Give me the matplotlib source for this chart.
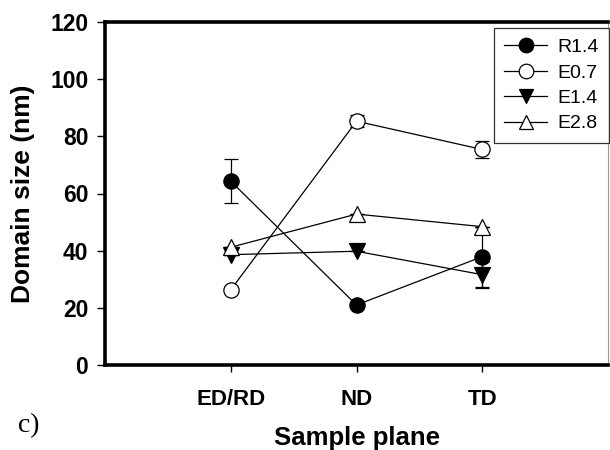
import numpy as np
import matplotlib.pyplot as plt
from matplotlib.lines import Line2D

# Sample planes and domain sizes (nm)
planes = ['ED/RD', 'ND', 'TD']
r14 = [64.3, 21.0, 37.9]
r14_err = [7.7, 0.0, 10.5]
e07 = [26.3, 85.3, 75.4]
e07_err = [0.0, 2.0, 3.0]
e14 = [38.6, 39.8, 31.6]
e14_err = [0.0, 0.0, 4.5]
e28 = [41.2, 52.8, 48.4]
e28_err = [0.0, 0.0, 0.0]

plt.rcParams['font.family'] = ['Liberation Sans', 'DejaVu Sans']

fig = plt.figure(figsize=(6.1, 4.5), dpi=100)
ax = fig.add_axes([105 / 610, 1 - 365 / 450, 503 / 610, 343 / 450])

x = np.arange(1, len(planes) + 1)
series = [
    ('R1.4', r14, r14_err, 'o', 'black'),
    ('E0.7', e07, e07_err, 'o', 'white'),
    ('E1.4', e14, e14_err, 'v', 'black'),
    ('E2.8', e28, e28_err, '^', 'white'),
]
handles = []
for name, vals, err, mk, fc in series:
    ax.errorbar(x, vals, yerr=err, fmt='-', color='black', lw=0.9,
                marker=mk, markerfacecolor=fc, markeredgecolor='black',
                markeredgewidth=0.9, markersize=11, capsize=5,
                elinewidth=0.9)
    handles.append(Line2D([], [], color='black', lw=0.9, marker=mk,
                          markerfacecolor=fc, markeredgecolor='black',
                          markeredgewidth=0.9, markersize=10.5, label=name))

ax.set_xlim(0, 4)
ax.set_ylim(0, 120)
ax.set_xticks(x)
ax.set_xticklabels(planes, fontsize=16, fontweight='bold')
ax.set_yticks(np.arange(0, 121, 20))
ax.tick_params(axis='y', labelsize=16.5, direction='out', length=6, width=1, pad=6)
ax.tick_params(axis='x', direction='out', length=5, width=1, pad=12)
for lab in ax.get_yticklabels():
    lab.set_fontweight('bold')

for side in ['left', 'bottom', 'top']:
    ax.spines[side].set_linewidth(2.6)
ax.spines['right'].set_linewidth(0.8)
ax.spines['right'].set_color('#999999')

ax.set_xlabel('Sample plane', fontsize=18.5, fontweight='bold', labelpad=12)
ax.set_ylabel('Domain size (nm)', fontsize=19, fontweight='bold', labelpad=11)

leg = ax.legend(handles=handles, loc='upper right',
                bbox_to_anchor=(609 / 610, 1 - 28 / 450),
                bbox_transform=fig.transFigure,
                fontsize=14, frameon=True, fancybox=False,
                edgecolor='black', borderaxespad=0, handlelength=2.2,
                labelspacing=0.4, borderpad=0.55, handletextpad=0.5)
leg.get_frame().set_linewidth(0.9)

fig.text(29 / 610, 1 - 426 / 450, 'c)', fontsize=20, family='Liberation Serif',
         ha='center', va='center')

fig.savefig('out.png', dpi=100)
